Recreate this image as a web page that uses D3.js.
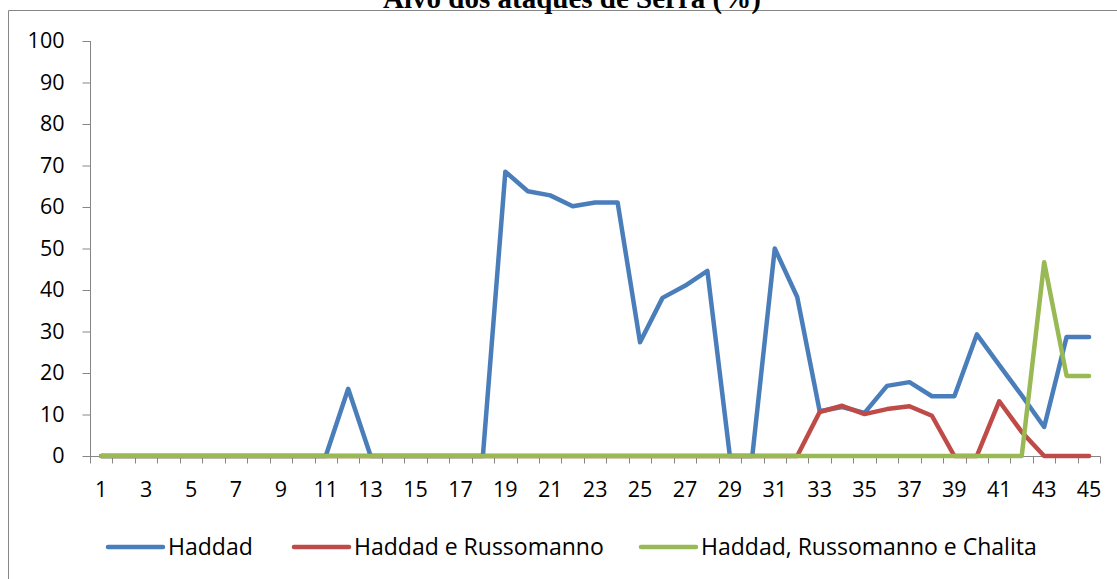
<!DOCTYPE html>
<html><head><meta charset="utf-8">
<script src="https://cdn.jsdelivr.net/npm/d3@7"></script>
<style>body{margin:0;background:#fff}svg{display:block}</style>
</head><body>
<svg id="c" width="1117" height="579"></svg>
<script>
const categories = d3.range(1, 46);
const seriesNames = ["Haddad", "Haddad e Russomanno", "Haddad, Russomanno e Chalita"];
const haddad = [0,0,0,0,0,0,0,0,0,0,0,16.2,0,0,0,0,0,0,68.5,63.8,62.8,60.2,61.1,61.1,27.4,38.1,41,44.6,0,0,50,38.3,10.8,11.8,10.4,16.9,17.8,14.4,14.4,29.3,21.9,14.6,7,28.7,28.7];
const russomanno = [0,0,0,0,0,0,0,0,0,0,0,0,0,0,0,0,0,0,0,0,0,0,0,0,0,0,0,0,0,0,0,0,10.6,12.1,10.1,11.3,12,9.7,0,0,13.2,5.8,0,0,0];
const chalita = [0,0,0,0,0,0,0,0,0,0,0,0,0,0,0,0,0,0,0,0,0,0,0,0,0,0,0,0,0,0,0,0,0,0,0,0,0,0,0,0,0,0,46.7,19.3,19.3];
const yTicks = [0,10,20,30,40,50,60,70,80,90,100];
const colors = ["#4a7ebb", "#be4b48", "#98b954"];
const title = "Alvo dos ataques de Serra (%)";

const svg = d3.select("#c");
const x = d3.scaleBand().domain(categories).range([90, 1100.3]).padding(0);
const y = d3.scaleLinear().domain([0, 100]).range([456, 41]);
const tickFont = "'Open Sans', 'Liberation Sans', sans-serif";

// frame
svg.append("line").attr("x1", 8.5).attr("x2", 8.5).attr("y1", 10.5).attr("y2", 579).attr("stroke", "#868686").attr("stroke-width", 1);
svg.append("line").attr("x1", 8.5).attr("x2", 1117).attr("y1", 10.5).attr("y2", 10.5).attr("stroke", "#868686").attr("stroke-width", 1);

// title
svg.append("text").attr("x", 572).attr("y", 8).attr("text-anchor", "middle")
  .style("font-family", "'Liberation Serif', serif").style("font-weight", "bold").style("font-size", "29px")
  .text(title);

// y axis
const yAxis = svg.append("g").attr("transform", "translate(90.5,0)")
  .call(d3.axisLeft(y).tickValues(yTicks).tickSize(8).tickPadding(18).tickFormat(d3.format("d")));
yAxis.select(".domain").attr("stroke", "#868686").attr("d", `M0,${y(100)}V${y(0)}`);
yAxis.selectAll(".tick line").attr("stroke", "#868686");
yAxis.selectAll("text").style("font-family", tickFont).style("font-size", "21.5px").attr("fill", "#000");

// x axis
const xg = svg.append("g").attr("transform", `translate(0,${y(0) + 0.5})`);
xg.append("line").attr("x1", x.range()[0]).attr("x2", x.range()[1]).attr("stroke", "#868686");
const bounds = d3.range(0, categories.length + 1).map(i => x.range()[0] + i * x.step());
xg.selectAll("line.tk").data(bounds).join("line").attr("class", "tk")
  .attr("x1", d => Math.round(d) + 0.5).attr("x2", d => Math.round(d) + 0.5).attr("y1", 0).attr("y2", 7).attr("stroke", "#868686");
xg.selectAll("text").data(categories.filter(c => c % 2 === 1)).join("text")
  .attr("x", d => x(d) + x.bandwidth() / 2).attr("y", 25.5).attr("dy", "0.71em").attr("text-anchor", "middle")
  .style("font-family", tickFont).style("font-size", "21.5px").text(d => d);

// lines
const all = [haddad, russomanno, chalita];
const line = d3.line().x((d, i) => x(categories[i]) + x.bandwidth() / 2).y(d => y(d));
all.forEach((s, k) => {
  svg.append("path").datum(s).attr("d", line).attr("fill", "none").attr("stroke", colors[k])
    .attr("stroke-width", 4.5).attr("stroke-linejoin", "round").attr("stroke-linecap", "round");
});

// legend
const legX = [108, 294, 641];
const lg = svg.append("g");
seriesNames.forEach((n, k) => {
  lg.append("line").attr("x1", legX[k]).attr("x2", legX[k] + 55).attr("y1", 547).attr("y2", 547)
    .attr("stroke", colors[k]).attr("stroke-width", 4.5).attr("stroke-linecap", "round");
  lg.append("text").attr("x", legX[k] + 60).attr("y", 547).attr("dy", "0.35em")
    .style("font-family", tickFont).style("font-size", "23px").text(n);
});
</script>
</body></html>
